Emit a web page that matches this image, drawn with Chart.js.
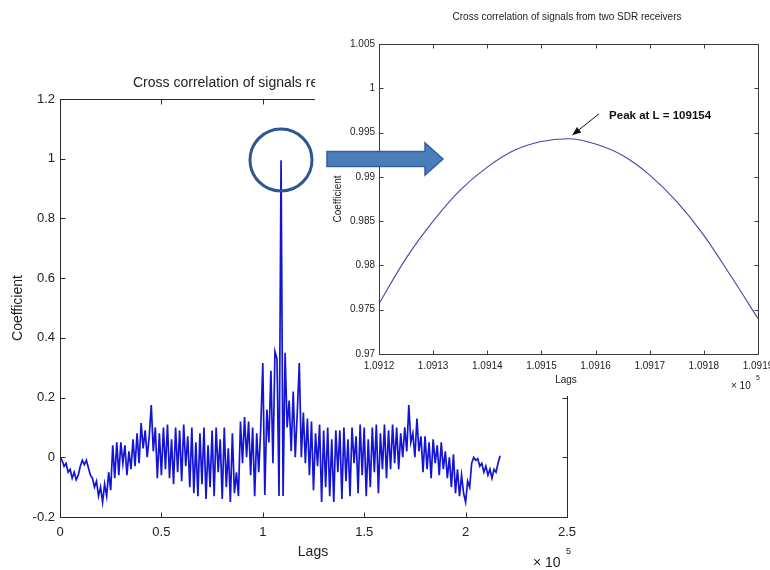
<!DOCTYPE html>
<html>
<head>
<meta charset="utf-8">
<script src="https://cdn.jsdelivr.net/npm/chart.js@4.4.1/dist/chart.umd.min.js"></script>
<style>
  html, body { margin: 0; padding: 0; background: #fff; }
  #wrap { position: relative; width: 770px; height: 570px; overflow: hidden; }
  #main { position: absolute; left: 0; top: 0; }
  #insetBox { position: absolute; left: 315px; top: 0; width: 455px; height: 396px; background: #fff; }
  #inset { position: absolute; left: 0; top: 0; }
  #marks { position: absolute; left: 0; top: 0; pointer-events: none; }
</style>
</head>
<body>
<div id="wrap">
  <canvas id="main" width="770" height="570"></canvas>
  <div id="insetBox"><canvas id="inset" width="455" height="396"></canvas></div>
  <svg id="marks" width="770" height="570">
    <circle cx="281" cy="160" r="31" fill="none" stroke="#2f5690" stroke-width="3"/>
    <polygon points="327,151.5 425,151.5 425,143 443,159 425,175 425,166.5 327,166.5" fill="#4a7ebb" stroke="#35609a" stroke-width="1.5"/>
  </svg>
</div>
<script>
// full cross correlation, one value every 1000 lags (0 .. 217000)
const lagStep = 1000;
const coefficient = [
  0, -0.01, -0.03, -0.02, -0.05, -0.04, -0.07, -0.05, -0.075, -0.06,
  -0.03, -0.01, -0.025, -0.01, -0.035, -0.06, -0.07, -0.1, -0.08, -0.13,
  -0.1, -0.15, -0.09, -0.13, -0.05, -0.11, 0.04, -0.07, 0.05, -0.06,
  0.05, -0.02, 0.04, -0.06, 0.02, -0.04, 0.06, -0.03, 0.08, -0.02,
  0.115, 0.03, 0.09, 0, 0.07, 0.175, 0.02, 0.1, -0.07, 0.08,
  -0.06, 0.1, -0.04, 0.11, -0.07, 0.06, -0.09, 0.1, -0.05, 0.09,
  -0.08, 0.11, -0.03, 0.07, -0.1, 0.1, -0.12, 0.05, -0.13, 0.08,
  -0.09, 0.1, -0.14, 0.04, -0.1, 0.09, -0.13, 0.1, -0.05, 0.06,
  -0.14, 0.1, -0.1, 0.03, -0.15, 0.08, -0.12, -0.05, -0.13, 0.12,
  -0.02, 0.135, 0, 0.12, -0.06, 0.1, -0.13, 0.08, -0.05, 0.1,
  0.316, -0.126, 0.16, 0.05, 0.29, -0.02, 0.354, 0.33, -0.13, 0.995,
  -0.13, 0.35, 0.1, 0.19, 0.02, 0.22, 0, 0.15, 0.316, 0,
  0.15, -0.02, 0.13, -0.06, 0.12, -0.11, 0.08, -0.03, 0.11, -0.15,
  0.09, -0.1, 0.1, -0.13, 0.06, -0.15, 0.09, -0.05, 0.09, -0.14,
  0.1, -0.08, 0.06, -0.13, 0.1, -0.02, 0.07, -0.12, 0.11, -0.06,
  0.1, -0.13, 0.06, -0.1, 0.1, -0.05, 0.11, -0.12, 0.08, -0.04,
  0.11, -0.07, 0.09, -0.04, 0.11, -0.02, 0.1, -0.04, 0.08, 0,
  0.1, 0.02, 0.175, 0.05, 0.08, 0, 0.13, 0.02, 0.07, -0.05,
  0.07, -0.04, 0.05, -0.07, 0.06, -0.02, 0.04, -0.06, 0.05, -0.04,
  0.02, -0.07, 0, -0.1, 0.01, -0.12, -0.04, -0.13, -0.06, -0.12,
  -0.15, -0.08, -0.1, -0.02, 0, -0.01, -0.005, -0.03, -0.02, -0.05,
  -0.03, -0.06, -0.04, -0.07, -0.04, -0.05, -0.02, 0.005
];
const mainXTicks = [0, 50000, 100000, 150000, 200000, 250000];
const mainXLabels = ['0', '0.5', '1', '1.5', '2', '2.5'];
const mainYTicks = [-0.2, 0, 0.2, 0.4, 0.6, 0.8, 1, 1.2];
const mainYLabels = ['-0.2', '0', '0.2', '0.4', '0.6', '0.8', '1', '1.2'];

// zoom around the peak
const insetLags = [109120, 109125, 109130, 109135, 109140, 109145, 109150, 109155,
                   109160, 109165, 109170, 109175, 109180, 109185, 109190];
const insetCoef = [0.9757, 0.9808, 0.985, 0.9885, 0.9911, 0.993, 0.994, 0.9943,
                   0.9937, 0.9924, 0.9902, 0.9872, 0.9834, 0.9788, 0.974];
const insetXTicks = [109120, 109130, 109140, 109150, 109160, 109170, 109180, 109190];
const insetXLabels = ['1.0912', '1.0913', '1.0914', '1.0915', '1.0916', '1.0917', '1.0918', '1.0919'];
const insetYTicks = [0.97, 0.975, 0.98, 0.985, 0.99, 0.995, 1, 1.005];
const insetYLabels = ['0.97', '0.975', '0.98', '0.985', '0.99', '0.995', '1', '1.005'];
const peakLag = 109154;
const peakCoef = 0.9943;

const FONT = '"Liberation Sans", Arial, sans-serif';

// MATLAB style box with inward ticks on all four sides
const boxAxes = {
  id: 'boxAxes',
  afterDatasetsDraw(chart, args, opts) {
    const { ctx, chartArea: a, scales: { x, y } } = chart;
    const L = Math.round(a.left) + 0.5, R = Math.round(a.right) + 0.5;
    const T = Math.round(a.top) + 0.5, B = Math.round(a.bottom) + 0.5;
    ctx.save();
    ctx.strokeStyle = opts.color;
    ctx.lineWidth = 1;
    ctx.strokeRect(L, T, R - L, B - T);
    ctx.beginPath();
    x.ticks.forEach(t => {
      const px = Math.round(x.getPixelForValue(t.value)) + 0.5;
      ctx.moveTo(px, B); ctx.lineTo(px, B - opts.len);
      ctx.moveTo(px, T); ctx.lineTo(px, T + opts.len);
    });
    y.ticks.forEach(t => {
      const py = Math.round(y.getPixelForValue(t.value)) + 0.5;
      ctx.moveTo(L, py); ctx.lineTo(L + opts.len, py);
      ctx.moveTo(R, py); ctx.lineTo(R - opts.len, py);
    });
    ctx.stroke();
    ctx.restore();
  }
};

// titles and axis captions
const figText = {
  id: 'figText',
  afterDraw(chart, args, opts) {
    const ctx = chart.ctx;
    (opts.items || []).forEach(it => {
      ctx.save();
      ctx.fillStyle = it.color || '#222';
      ctx.font = it.font;
      ctx.textAlign = it.align || 'center';
      ctx.textBaseline = 'middle';
      ctx.translate(it.x, it.y);
      if (it.rotate) ctx.rotate(it.rotate);
      ctx.fillText(it.text, 0, 0);
      ctx.restore();
    });
  }
};

const peakNote = {
  id: 'peakNote',
  afterDraw(chart, args, opts) {
    if (!opts.text) return;
    const { ctx, scales: { x, y } } = chart;
    const px = x.getPixelForValue(opts.lag), py = y.getPixelForValue(opts.value);
    const x0 = px + 36, y0 = py - 25, x1 = px + 9, y1 = py - 3.5;
    const ang = Math.atan2(y1 - y0, x1 - x0);
    ctx.save();
    ctx.strokeStyle = '#111';
    ctx.fillStyle = '#111';
    ctx.lineWidth = 1;
    ctx.beginPath();
    ctx.moveTo(x0, y0);
    ctx.lineTo(x1 - 6 * Math.cos(ang), y1 - 6 * Math.sin(ang));
    ctx.stroke();
    ctx.beginPath();
    ctx.moveTo(x1, y1);
    ctx.lineTo(x1 - 9 * Math.cos(ang) + 3.5 * Math.sin(ang), y1 - 9 * Math.sin(ang) - 3.5 * Math.cos(ang));
    ctx.lineTo(x1 - 9 * Math.cos(ang) - 3.5 * Math.sin(ang), y1 - 9 * Math.sin(ang) + 3.5 * Math.cos(ang));
    ctx.closePath();
    ctx.fill();
    ctx.font = 'bold 11.5px ' + FONT;
    ctx.textAlign = 'left';
    ctx.textBaseline = 'middle';
    ctx.fillText(opts.text, px + 46, py - 23);
    ctx.restore();
  }
};

function fixedScale(size, tickValues) {
  return {
    afterFit(s) {
      if (s.isHorizontal()) s.height = size; else s.width = size;
      s.paddingLeft = 0; s.paddingRight = 0; s.paddingTop = 0; s.paddingBottom = 0;
    },
    afterBuildTicks(s) {
      s.ticks = tickValues.map(v => ({ value: v }));
    }
  };
}

function axis(min, max, size, tickValues, labels, fontSize, pad) {
  return Object.assign({
    type: 'linear',
    min: min,
    max: max,
    grid: { display: false, drawTicks: false },
    border: { display: false },
    ticks: {
      autoSkip: false,
      maxRotation: 0,
      padding: pad,
      color: '#222',
      font: { family: FONT, size: fontSize },
      callback: (v, i) => labels[i]
    }
  }, fixedScale(size, tickValues));
}

new Chart(document.getElementById('main'), {
  type: 'line',
  data: {
    datasets: [{
      data: coefficient.map((c, i) => ({ x: i * lagStep, y: c })),
      borderColor: '#1414d6',
      borderWidth: 1.7,
      pointRadius: 0,
      tension: 0
    }]
  },
  options: {
    responsive: false,
    animation: false,
    layout: { autoPadding: false, padding: { left: 0, top: 99, right: 203, bottom: 0 } },
    plugins: {
      legend: { display: false },
      tooltip: { enabled: false },
      boxAxes: { color: '#2a2a2a', len: 5 },
      figText: {
        items: [
          { text: 'Cross correlation of signals received from two SDR receivers', x: 133, y: 83, font: '14px ' + FONT, align: 'left' },
          { text: 'Lags', x: 313, y: 552, font: '14px ' + FONT },
          { text: 'Coefficient', x: 18, y: 308, font: '14px ' + FONT, rotate: -Math.PI / 2 },
          { text: '\u00d7 10', x: 533, y: 563, font: '14px ' + FONT, align: 'left' },
          { text: '5', x: 566, y: 552, font: '9px ' + FONT, align: 'left' }
        ]
      }
    },
    scales: {
      x: axis(0, 250000, 53, mainXTicks, mainXLabels, 13, 8),
      y: axis(-0.2, 1.2, 60, mainYTicks, mainYLabels, 13, 5)
    }
  },
  plugins: [boxAxes, figText]
});

new Chart(document.getElementById('inset'), {
  type: 'line',
  data: {
    datasets: [{
      data: insetLags.map((l, i) => ({ x: l, y: insetCoef[i] })),
      borderColor: '#4545a5',
      borderWidth: 1.1,
      pointRadius: 0,
      cubicInterpolationMode: 'monotone'
    }]
  },
  options: {
    responsive: false,
    animation: false,
    layout: { autoPadding: false, padding: { left: 0, top: 44, right: 12, bottom: 0 } },
    plugins: {
      legend: { display: false },
      tooltip: { enabled: false },
      boxAxes: { color: '#3a3a3a', len: 4 },
      peakNote: { text: 'Peak at L = 109154', lag: peakLag, value: peakCoef },
      figText: {
        items: [
          { text: 'Cross correlation of signals from two SDR receivers', x: 252, y: 17, font: '10px ' + FONT },
          { text: 'Lags', x: 251, y: 380, font: '10px ' + FONT },
          { text: 'Coefficient', x: 23, y: 199, font: '10px ' + FONT, rotate: -Math.PI / 2 },
          { text: '\u00d7 10', x: 416, y: 386, font: '10px ' + FONT, align: 'left' },
          { text: '5', x: 441, y: 378, font: '7px ' + FONT, align: 'left' }
        ]
      }
    },
    scales: {
      x: axis(109120, 109190, 42, insetXTicks, insetXLabels, 10, 6),
      y: axis(0.97, 1.005, 64, insetYTicks, insetYLabels, 10, 4)
    }
  },
  plugins: [boxAxes, figText, peakNote]
});
</script>
</body>
</html>
